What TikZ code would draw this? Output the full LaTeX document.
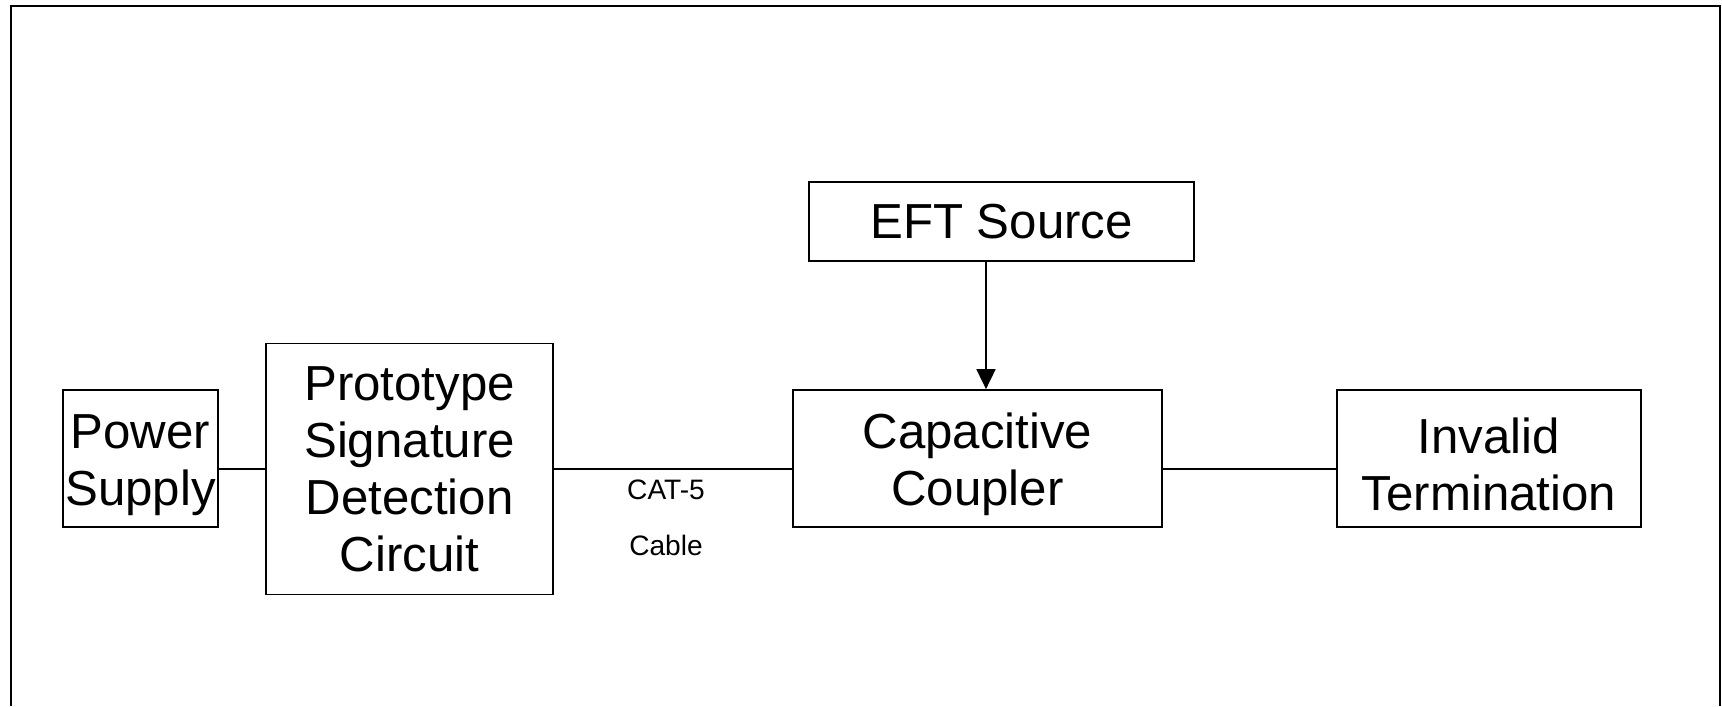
\documentclass[tikz,border=0pt]{standalone}
\usepackage{fontspec}
\setmainfont{Liberation Sans}
\usetikzlibrary{arrows.meta}
\newcommand{\topstrut}{\rule{0pt}{27pt}}
\begin{document}
\begin{tikzpicture}[x=.2mm,y=-.2mm,line width=1pt,
  blk/.style={draw,align=center,inner sep=0pt,font=\fontsize{28}{32.4}\selectfont},
  cable/.style={align=center,font=\fontsize{16}{32}\selectfont}]
\useasboundingbox (0,0) rectangle (1722,706);
\draw (11,706)--(11,6)--(1720,6)--(1720,706);
\node[blk,minimum width=31mm,minimum height=27.4mm] (ps) at (140.5,458.5) {\topstrut Power\\Supply};
\node[blk,minimum width=57.4mm,minimum height=50.2mm] (psdc) at (409.5,469) {Prototype\\Signature\\Detection\\Circuit};
\node[blk,minimum width=77mm,minimum height=15.8mm] (eft) at (1001.5,221.5) {EFT Source};
\node[blk,minimum width=73.8mm,minimum height=27.4mm] (cc) at (977.5,458.5) {\topstrut Capacitive\\Coupler};
\node[blk,minimum width=60.8mm,minimum height=27.4mm] (it) at (1489,458.5) {\topstrut Invalid\\Termination};
\node[cable] (cat) at (666,518) {CAT-5\\Cable};
\draw (psdc.west) -- (psdc.west -| ps.east);
\draw (psdc.east) -- (psdc.east -| cc.west);
\draw (cc.east |- psdc.east) -- (it.west |- psdc.east);
\draw[-{Triangle[length=4mm,width=3.8mm]}] ([xshift=-3.1mm]eft.south) -- ([xshift=1.7mm]cc.north);
\end{tikzpicture}
\end{document}
